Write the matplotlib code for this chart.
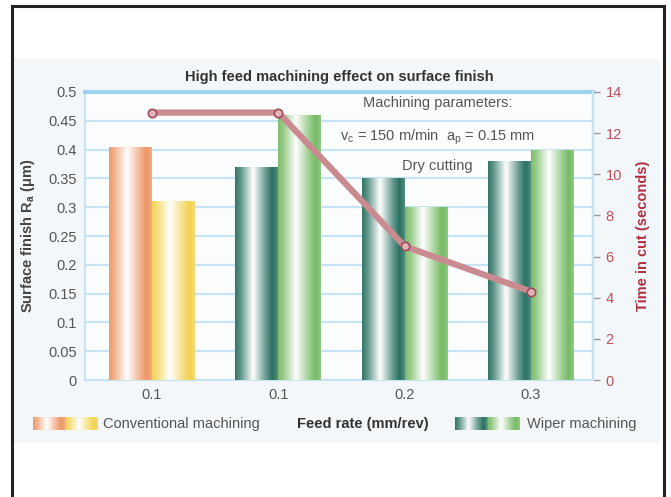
import numpy as np
import matplotlib
matplotlib.use("Agg")
import matplotlib.pyplot as plt
from matplotlib.patches import Rectangle
from matplotlib.lines import Line2D

plt.rcParams['font.family'] = ['Liberation Sans Narrow', 'Liberation Sans', 'DejaVu Sans']

# feed rate groups (two groups at 0.1: conventional and wiper)
feed_labels = ["0.1", "0.1", "0.2", "0.3"]
finish_first = [0.405, 0.37, 0.35, 0.38]    # left bar of each pair (um)
finish_second = [0.31, 0.46, 0.30, 0.40]    # right bar of each pair (um)
time_in_cut = [13.0, 13.0, 6.5, 4.3]        # seconds
left_ticks = [0, 0.05, 0.1, 0.15, 0.2, 0.25, 0.3, 0.35, 0.4, 0.45, 0.5]
left_ticklabels = ["0", "0.05", "0.1", "0.15", "0.2", "0.25", "0.3", "0.35", "0.4", "0.45", "0.5"]
right_ticks = [0, 2, 4, 6, 8, 10, 12, 14]

orange = np.array([238, 150, 100]) / 255
yellow = np.array([242, 210, 80]) / 255
teal = np.array([40, 112, 96]) / 255
green = np.array([118, 186, 100]) / 255

bar_colors_first = [orange, teal, teal, teal]
bar_colors_second = [yellow, green, green, green]


def gradient(col, n=64):
    # dark edge -> white near the middle -> dark again toward the right edge
    t = np.linspace(0, 1, n)
    w = np.interp(t, [0, 0.12, 0.42, 0.7, 0.88, 1.0], [0.05, 0.25, 1.0, 0.35, 0.0, 0.2])
    img = col[None, :] * (1 - w[:, None]) + np.ones(3)[None, :] * w[:, None]
    return img[None, :, :]


fig = plt.figure(figsize=(6.71, 4.97), dpi=100)
fig.patch.set_facecolor('white')

# light panel behind the chart and the outer frame
fig.patches.append(Rectangle((0.019, 0.109), 0.965, 0.772, transform=fig.transFigure,
                             facecolor='#f3f7fa', edgecolor='none', zorder=-10))
frame_kw = dict(transform=fig.transFigure, color='#222222', lw=2.2)
fig.lines.append(Line2D([0.0179, 0.0179], [0.0, 0.987], **frame_kw))
fig.lines.append(Line2D([0.9896, 0.9896], [0.0, 0.987], **frame_kw))
fig.lines.append(Line2D([0.0179, 0.9896], [0.987, 0.987], **frame_kw))

ax = fig.add_axes([0.1267, 0.2354, 0.757, 0.5795])
ax.set_facecolor('#fbfdfe')
x = np.arange(len(feed_labels))
bw = 0.34

for i in range(len(x)):
    for off, val, col in [(-bw / 2, finish_first[i], bar_colors_first[i]),
                          (bw / 2, finish_second[i], bar_colors_second[i])]:
        b = ax.bar(x[i] + off, val, bw, facecolor='none', edgecolor='none', zorder=3)[0]
        im = ax.imshow(gradient(col), extent=(b.get_x(), b.get_x() + b.get_width(), 0, val),
                       aspect='auto', zorder=3, interpolation='bicubic')
        im.set_clip_path(b)

ax.set_xlim(-0.53, 3.49)
ax.set_ylim(0, 0.5)
ax.set_yticks(left_ticks)
ax.set_yticklabels(left_ticklabels)
ax.set_xticks(x)
ax.set_xticklabels(feed_labels)
ax.yaxis.grid(True, color='#c6e4f3', lw=1.6, zorder=0)
ax.set_axisbelow(True)
ax.tick_params(axis='both', length=0, labelsize=10.5, labelcolor='#555555', pad=6)
for s in ['left', 'bottom', 'right']:
    ax.spines[s].set_color('#c6e4f3')
    ax.spines[s].set_linewidth(1.6)
ax.spines['top'].set_color('#9fd2ee')
ax.spines['top'].set_linewidth(3)
ax.set_ylabel('Surface finish R$_\\mathregular{a}$ (μm)', fontsize=10.5, fontweight='bold',
              color='#444444', labelpad=8)

ax2 = ax.twinx()
ax2.plot(x, time_in_cut, color='#c98a90', lw=4.5, marker='o', markersize=6,
         markerfacecolor='#e2b3b6', markeredgecolor='#9c4c58', markeredgewidth=1.2, zorder=5)
ax2.set_ylim(0, 14)
ax2.set_yticks(right_ticks)
ax2.tick_params(axis='y', length=5, width=1, color='#999999', labelsize=10.5,
                labelcolor='#c0505c', pad=4)
for s in ['left', 'bottom', 'top']:
    ax2.spines[s].set_visible(False)
ax2.spines['right'].set_color('#c6e4f3')
ax2.spines['right'].set_linewidth(1.6)
ax2.set_ylabel('Time in cut (seconds)', fontsize=10.5, fontweight='bold', color='#b03040',
               labelpad=10)

ax.set_title('High feed machining effect on surface finish', fontsize=10.5,
             fontweight='bold', color='#333333', pad=8)

txt_kw = dict(ha='center', va='center', fontsize=10.5, color='#555555', zorder=6)
ax.text(2.26, 0.481, 'Machining parameters:', **txt_kw)
ax.text(2.26, 0.422, 'v$_\\mathregular{c}$ = 150 m/min  a$_\\mathregular{p}$ = 0.15 mm', **txt_kw)
ax.text(2.26, 0.372, 'Dry cutting', **txt_kw)

# legend row with gradient swatches and the x-axis title in between
for (x0, c1, c2) in [(0.049, orange, yellow), (0.678, teal, green)]:
    sw = fig.add_axes([x0, 0.135, 0.096, 0.026])
    sw.imshow(np.concatenate([gradient(c1), gradient(c2)], axis=1), aspect='auto',
              interpolation='bicubic')
    sw.set_axis_off()
fig.text(0.153, 0.147, 'Conventional machining', ha='left', va='center', fontsize=10.5,
         color='#555555')
fig.text(0.54, 0.147, 'Feed rate (mm/rev)', ha='center', va='center', fontsize=10.5,
         fontweight='bold', color='#333333')
fig.text(0.785, 0.147, 'Wiper machining', ha='left', va='center', fontsize=10.5,
         color='#555555')

plt.savefig('out.png', dpi=100)
